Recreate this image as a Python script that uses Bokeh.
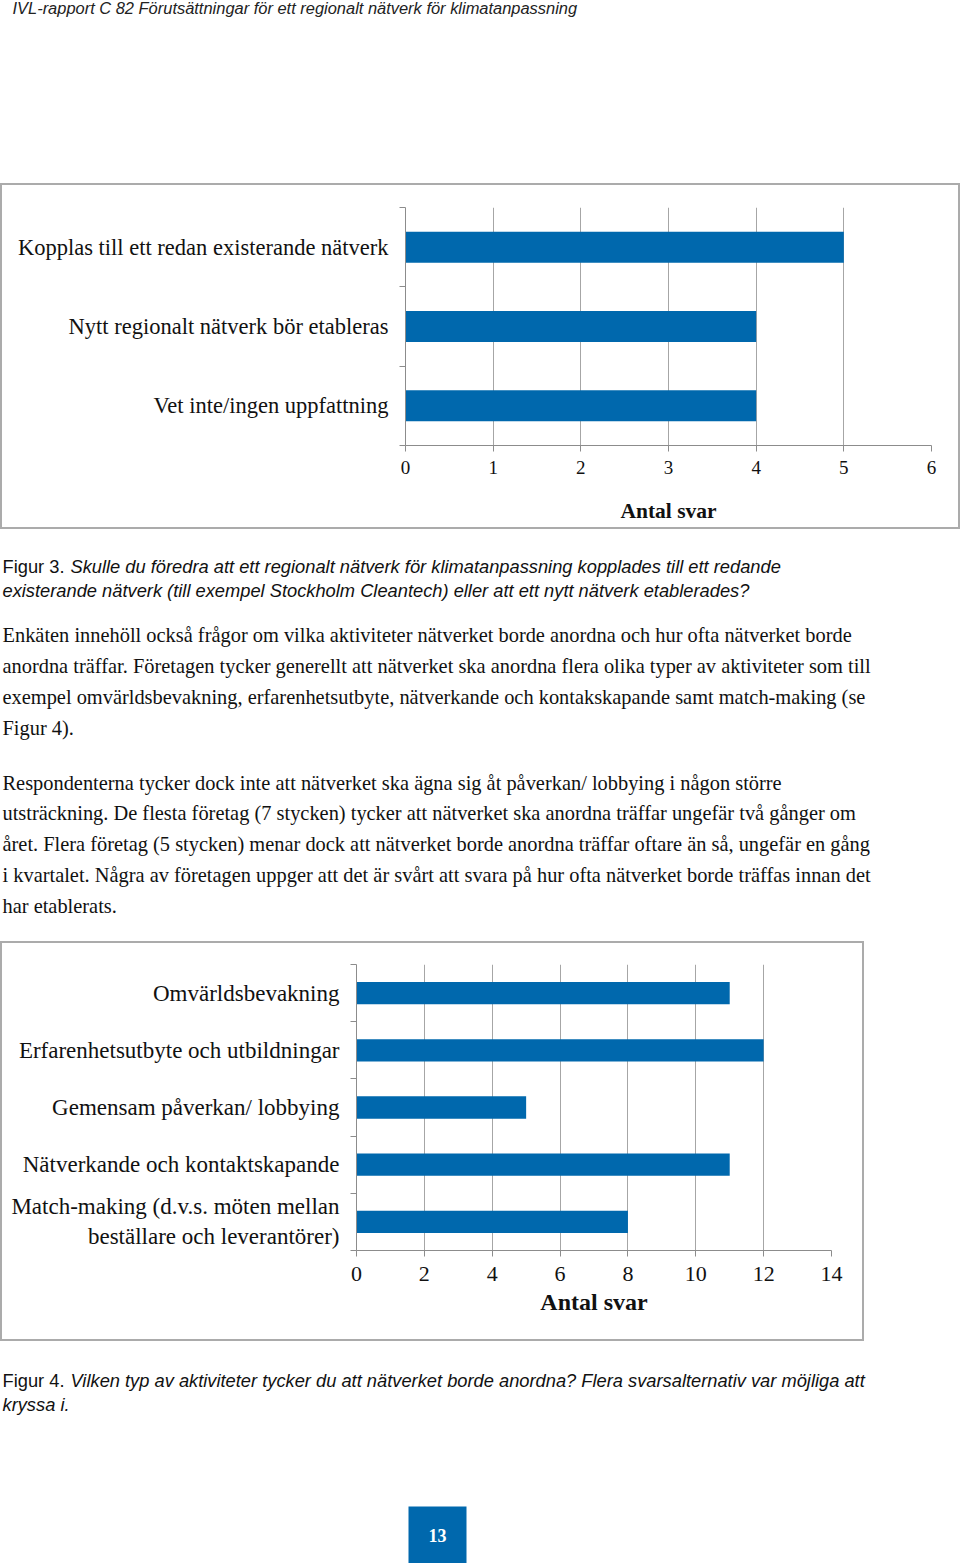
from bokeh.plotting import figure
from bokeh.layouts import column
from bokeh.models import Range1d, FixedTicker, Label, BoxAnnotation
from bokeh.embed import file_html
from bokeh.resources import INLINE

# ---------------- data ----------------
cats1 = ["Kopplas till ett redan existerande nätverk",
         "Nytt regionalt nätverk bör etableras",
         "Vet inte/ingen uppfattning"]
vals1 = [5, 4, 4]
ticks1 = [0, 1, 2, 3, 4, 5, 6]

cats2 = ["Omvärldsbevakning",
         "Erfarenhetsutbyte och utbildningar",
         "Gemensam påverkan/ lobbying",
         "Nätverkande och kontaktskapande",
         "Match-making (d.v.s. möten mellan\nbeställare och leverantörer)"]
vals2 = [11, 12, 5, 11, 8]
ticks2 = [0, 2, 4, 6, 8, 10, 12, 14]

axis_title = "Antal svar"

header = "IVL-rapport C 82 Förutsättningar för ett regionalt nätverk för klimatanpassning"
cap1_lead = "Figur 3."
cap1_lines = ["Skulle du föredra att ett regionalt nätverk för klimatanpassning kopplades till ett redande",
              "existerande nätverk (till exempel Stockholm Cleantech) eller att ett nytt nätverk etablerades?"]
para1 = ["Enkäten innehöll också frågor om vilka aktiviteter nätverket borde anordna och hur ofta nätverket borde",
         "anordna träffar. Företagen tycker generellt att nätverket ska anordna flera olika typer av aktiviteter som till",
         "exempel omvärldsbevakning, erfarenhetsutbyte, nätverkande och kontakskapande samt match-making (se",
         "Figur 4)."]
para2 = ["Respondenterna tycker dock inte att nätverket ska ägna sig åt påverkan/ lobbying i någon större",
         "utsträckning. De flesta företag (7 stycken) tycker att nätverket ska anordna träffar ungefär två gånger om",
         "året. Flera företag (5 stycken) menar dock att nätverket borde anordna träffar oftare än så, ungefär en gång",
         "i kvartalet. Några av företagen uppger att det är svårt att svara på hur ofta nätverket borde träffas innan det",
         "har etablerats."]
cap2_lead = "Figur 4."
cap2_lines = ["Vilken typ av aktiviteter tycker du att nätverket borde anordna? Flera svarsalternativ var möjliga att",
              "kryssa i."]
page_no = "13"

# ---------------- style ----------------
BAR = "#0068ad"
GRID = "#a6a6a6"
AXIS = "#8c8c8c"
BORDER = "#ababab"
SERIF = "Liberation Serif"
SANS = "Liberation Sans"


def bar_chart(cats, vals, ticks, w, h, left, right, top, bottom,
              label_size, tick_size, title_size, tick_standoff, title_standoff):
    n = len(cats)
    ypos = [n - i - 0.5 for i in range(n)]
    p = figure(width=w, height=h, x_range=Range1d(ticks[0], ticks[-1]),
               y_range=Range1d(0, n), output_backend="svg", toolbar_location=None,
               min_border_left=left, min_border_right=right,
               min_border_top=top, min_border_bottom=bottom,
               frame_align=False,
               styles={"border": f"2px solid {BORDER}"})
    p.hbar(y=ypos, left=0, right=vals, height=0.39, fill_color=BAR, line_color=None)
    p.outline_line_color = None
    p.background_fill_color = "white"
    p.border_fill_color = "white"

    xa = p.xaxis[0]
    xa.ticker = FixedTicker(ticks=ticks, minor_ticks=[])
    xa.major_tick_out = 6
    xa.major_tick_in = 0
    xa.minor_tick_out = 0
    xa.minor_tick_in = 0
    xa.axis_line_color = AXIS
    xa.major_tick_line_color = AXIS
    xa.major_label_text_font = SERIF
    xa.major_label_text_font_size = f"{tick_size}px"
    xa.major_label_text_color = "#111111"
    xa.major_label_standoff = tick_standoff
    xa.axis_label = axis_title
    xa.axis_label_text_font = SERIF
    xa.axis_label_text_font_style = "bold"
    xa.axis_label_text_font_size = f"{title_size}px"
    xa.axis_label_text_color = "#111111"
    xa.axis_label_standoff = title_standoff

    ya = p.yaxis[0]
    ya.ticker = FixedTicker(ticks=ypos, minor_ticks=list(range(n + 1)))
    ya.major_tick_out = 0
    ya.major_tick_in = 0
    ya.major_tick_line_color = None
    ya.minor_tick_out = 6
    ya.minor_tick_in = 0
    ya.minor_tick_line_color = AXIS
    ya.axis_line_color = AXIS
    ya.major_label_overrides = {y: c for y, c in zip(ypos, cats)}
    ya.major_label_standoff = 11
    ya.major_label_text_font = SERIF
    ya.major_label_text_font_size = f"{label_size}px"
    ya.major_label_text_color = "#111111"

    p.xgrid.grid_line_color = GRID
    p.xgrid.grid_line_width = 1
    p.ygrid.grid_line_color = None
    return p


def text_fig(w, h):
    f = figure(width=w, height=h, x_range=Range1d(0, w), y_range=Range1d(h, 0),
               output_backend="svg", toolbar_location=None, min_border=0,
               frame_align=False, x_axis_type=None, y_axis_type=None)
    f.outline_line_color = None
    f.grid.visible = False
    return f


def add_line(f, x, y, text, font, size, style="normal", color="#111111", align="left"):
    f.add_layout(Label(x=x, y=y, text=text, text_font=font, text_font_size=f"{size}px",
                       text_font_style=style, text_color=color, text_baseline="middle",
                       text_align=align))


W = 960
CAP = 18.3
BODY = 20.4

# header (page y 0..183)
hdr = text_fig(W, 183)
add_line(hdr, 12, 7, header, SANS, 16.45, style="italic", color="#222222")

# chart 1 (page y 183..529, box incl. 2px border)
p1 = bar_chart(cats1, vals1, ticks1, 960, 346, left=403, right=31, top=22, bottom=86,
               label_size=22.5, tick_size=19, title_size=21.5, tick_standoff=9, title_standoff=22)

# text block 1 (page y 529..941)
t1 = text_fig(W, 412)
Y0 = 529
add_line(t1, 2, 566 - Y0, cap1_lead, SANS, CAP)
add_line(t1, 70, 566 - Y0, cap1_lines[0], SANS, CAP, style="italic")
add_line(t1, 2, 590 - Y0, cap1_lines[1], SANS, CAP, style="italic")
for i, ln in enumerate(para1):
    add_line(t1, 2, 634 - Y0 + i * 31, ln, SERIF, BODY)
for i, ln in enumerate(para2):
    add_line(t1, 2, 782 - Y0 + i * 30.8, ln, SERIF, BODY)

# chart 2 (page y 941..1341)
p2 = bar_chart(cats2, vals2, ticks2, 864, 400, left=354, right=35, top=21, bottom=93,
               label_size=23, tick_size=22, title_size=24, tick_standoff=10, title_standoff=5)

# text block 2 + page number (page y 1341..1563)
t2 = text_fig(W, 222)
Y1 = 1341
add_line(t2, 2, 1380 - Y1, cap2_lead, SANS, CAP)
add_line(t2, 70, 1380 - Y1, cap2_lines[0], SANS, CAP, style="italic")
add_line(t2, 2, 1404 - Y1, cap2_lines[1], SANS, CAP, style="italic")
t2.add_layout(BoxAnnotation(left=408, right=466, top=1506 - Y1, bottom=1563 - Y1,
                            fill_color=BAR, fill_alpha=1, line_color=None))
add_line(t2, 437, 1535 - Y1, page_no, SERIF, 18, style="bold", color="white", align="center")

layout = column(hdr, p1, t1, p2, t2, spacing=0)

open("out.html", "w").write(file_html(layout, INLINE))
